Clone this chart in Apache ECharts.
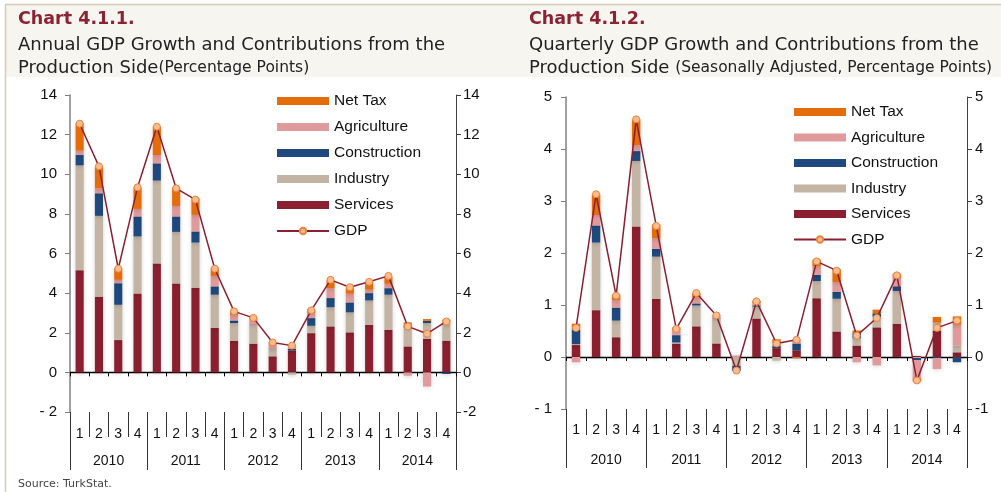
<!DOCTYPE html>
<html>
<head>
<meta charset="utf-8">
<script src="https://cdn.jsdelivr.net/npm/echarts@6/dist/echarts.min.js"></script>
<style>
  html, body { margin: 0; padding: 0; background: #fff; }
  #chart { width: 1001px; height: 492px; }
</style>
</head>
<body>
<div id="chart"></div>
<script>
// categories
const quarters = ['1','2','3','4','1','2','3','4','1','2','3','4','1','2','3','4','1','2','3','4'];
const years = ['2010', '2011', '2012', '2013', '2014'];

// Chart 4.1.1 - annual growth, contributions (percentage points)
const annServices     = [5.15, 3.82, 1.63, 3.98, 5.50, 4.49, 4.27, 2.25, 1.60, 1.45, 0.81, 1.10, 1.98, 2.32, 2.02, 2.40, 2.15, 1.31, 1.70, 1.60];
const annIndustry     = [5.30, 4.08, 1.78, 2.88, 4.18, 2.60, 2.28, 1.67, 0.89, 0.95, 0.37, -0.12, 0.37, 0.97, 1.01, 1.23, 1.77, 0.93, 0.79, 0.80];
const annConstruction = [0.52, 1.14, 1.09, 1.01, 0.87, 0.78, 0.56, 0.42, 0.13, 0.02, 0.02, 0.08, 0.39, 0.46, 0.50, 0.37, 0.33, 0.16, 0.11, -0.08];
const annAgriculture  = [0.22, 0.25, 0.17, 0.38, 0.42, 0.53, 0.84, 0.53, 0.28, 0.25, 0.20, 0.12, 0.25, 0.50, 0.44, 0.17, 0.22, -0.17, -0.71, 0.12];
const annNetTax       = [1.40, 1.10, 0.60, 1.09, 1.43, 0.94, 0.84, 0.42, 0.20, 0.10, 0.12, 0.10, 0.20, 0.40, 0.33, 0.40, 0.37, 0.12, 0.09, 0.14];
const annGDP          = [12.55, 10.4, 5.23, 9.34, 12.4, 9.29, 8.72, 5.23, 3.08, 2.75, 1.51, 1.35, 3.13, 4.67, 4.30, 4.57, 4.87, 2.32, 1.95, 2.57];

// Chart 4.1.2 - quarterly growth, seasonally adjusted
const qServices     = [0.23, 0.90, 0.38, 2.51, 1.12, 0.25, 0.59, 0.26, 0.00, 0.74, 0.17, 0.13, 1.13, 0.49, 0.22, 0.57, 0.64, 0.02, 0.51, 0.09];
const qIndustry     = [0.02, 1.30, 0.32, 1.26, 0.81, 0.03, 0.40, 0.47, -0.17, 0.23, -0.07, 0.00, 0.33, 0.63, 0.14, 0.20, 0.63, -0.02, 0.15, 0.13];
const qConstruction = [0.27, 0.33, 0.25, 0.19, 0.15, 0.14, 0.04, 0.01, -0.10, 0.02, 0.04, 0.13, 0.12, 0.13, 0.10, 0.07, 0.09, -0.04, -0.02, -0.10];
const qAgriculture  = [-0.10, 0.20, 0.14, 0.11, 0.20, 0.10, 0.12, 0.06, 0.03, 0.05, 0.05, 0.08, 0.16, 0.19, -0.10, -0.16, 0.16, -0.35, -0.21, 0.40];
const qNetTax       = [0.12, 0.40, 0.11, 0.50, 0.27, 0.05, 0.08, 0.01, 0.00, 0.04, 0.08, -0.02, 0.13, 0.25, 0.05, 0.07, 0.08, -0.06, 0.11, 0.16];
const qGDP          = [0.56, 3.13, 1.18, 4.57, 2.52, 0.54, 1.23, 0.80, -0.26, 1.07, 0.26, 0.33, 1.84, 1.66, 0.41, 0.75, 1.57, -0.45, 0.56, 0.70];

const legendNames = ['Net Tax', 'Agriculture', 'Construction', 'Industry', 'Services', 'GDP'];

const C = {
  services: '#8a1f2f',
  industry: '#c3b4a4',
  construction: '#1f497d',
  agriculture: '#e09a9b',
  netTax: '#e46c0a',
  gdpLine: '#8a1f2f'
};

const axisFont = 'Liberation Sans';

function bars(stack, xi, yi, s, ind, con, agr, tax) {
  const mk = (name, data, color) => ({
    name: name, type: 'bar', stack: stack, xAxisIndex: xi, yAxisIndex: yi,
    barWidth: '42%', data: data,
    itemStyle: { color: color, shadowBlur: 4, shadowColor: 'rgba(0,0,0,0.18)', shadowOffsetY: 1 }
  });
  return [
    mk('Services', s, C.services),
    mk('Industry', ind, C.industry),
    mk('Construction', con, C.construction),
    mk('Agriculture', agr, C.agriculture),
    mk('Net Tax', tax, C.netTax)
  ];
}

function gdpLine(xi, yi, data) {
  return {
    name: 'GDP', type: 'line', xAxisIndex: xi, yAxisIndex: yi, data: data, z: 5,
    symbol: 'circle', symbolSize: 7,
    lineStyle: { color: C.gdpLine, width: 1.5 },
    itemStyle: { color: '#fbbb8c', borderColor: '#e8843f', borderWidth: 1 }
  };
}

// three x axes per grid: zero line, quarter labels, year labels
function xAxes(gi, qTick, qMargin, yTick, yMargin) {
  return [
    { gridIndex: gi, type: 'category', position: 'bottom', data: quarters,
      axisLine: { onZero: true, lineStyle: { color: '#000', width: 1.3 } },
      axisTick: { show: true, length: 4, lineStyle: { color: '#000' } },
      axisLabel: { show: false } },
    { gridIndex: gi, type: 'category', position: 'bottom', data: quarters,
      axisLine: { show: false, onZero: false },
      axisTick: { show: true, length: qTick, lineStyle: { color: '#333' } },
      axisLabel: { interval: 0, margin: qMargin, fontSize: 14, color: '#111', fontFamily: axisFont } },
    { gridIndex: gi, type: 'category', position: 'bottom', data: years,
      axisLine: { show: false, onZero: false },
      axisTick: { show: true, length: yTick, lineStyle: { color: '#333' } },
      axisLabel: { interval: 0, margin: yMargin, fontSize: 14, color: '#111', fontFamily: axisFont } }
  ];
}

function yAxes(gi, min, max, step, leftMargin, rightMargin) {
  const lbl = { fontSize: 15, color: '#111', fontFamily: axisFont };
  return [
    { gridIndex: gi, type: 'value', position: 'left', min: min, max: max, interval: step,
      splitLine: { show: false },
      axisLine: { show: true, onZero: false, lineStyle: { color: '#808080', width: 1.5 } },
      axisTick: { show: true, length: 5, lineStyle: { color: '#808080' } },
      axisLabel: Object.assign({ margin: leftMargin,
        formatter: v => v < 0 ? '- ' + Math.abs(v) : String(v) }, lbl) },
    { gridIndex: gi, type: 'value', position: 'right', min: min, max: max, interval: step,
      splitLine: { show: false },
      axisLine: { show: true, onZero: false, lineStyle: { color: '#404040', width: 1 } },
      axisTick: { show: true, length: 5, lineStyle: { color: '#404040' } },
      axisLabel: Object.assign({ margin: rightMargin }, lbl) }
  ];
}

function legend(left, top, gap) {
  return {
    orient: 'vertical', left: left, top: top, padding: 0,
    itemWidth: 52, itemHeight: 8, itemGap: gap,
    selectedMode: false,
    textStyle: { fontSize: 15.5, color: '#111', fontFamily: axisFont },
    data: legendNames.map(n => n === 'GDP' ? { name: n } : { name: n, icon: 'rect' })
  };
}

const titleFont = '"DejaVu Sans"';
const beige = '#f6f5f0';
const rule = '#d6cbb4';

function titleBlock(x, head, line1, line2a, line2b) {
  return [
    { type: 'text', x: x, y: 19, style: { text: head, fontFamily: titleFont, fontWeight: 'bold', fontSize: 17.5, fill: '#8b2332', verticalAlign: 'middle' } },
    { type: 'text', x: x, y: 45, style: { text: line1, fontFamily: titleFont, fontSize: 18, fill: '#222', verticalAlign: 'middle' } },
    { type: 'text', x: x, y: 68, style: { text: '{a|' + line2a + '}{b|' + line2b + '}', verticalAlign: 'middle',
        rich: { a: { fontFamily: titleFont, fontSize: 18, fill: '#222' }, b: { fontFamily: titleFont, fontSize: 15.5, fill: '#222' } } } }
  ];
}

const chart = echarts.init(document.getElementById('chart'), null, { renderer: 'canvas' });
chart.setOption({
  animation: false,
  backgroundColor: '#fff',
  grid: [
    { left: 70, right: 545, top: 95, bottom: 80 },
    { left: 566, right: 34, top: 97, bottom: 83 }
  ],
  legend: [legend(276, 93, 10), legend(793, 104, 9.5)],
  xAxis: [].concat(xAxes(0, 25, 15, 58, 42), xAxes(1, 26, 14, 59, 44)),
  yAxis: [].concat(yAxes(0, -2, 14, 2, 13, 7), yAxes(1, -1, 5, 1, 14, 8)),
  series: [].concat(
    bars('annual', 0, 0, annServices, annIndustry, annConstruction, annAgriculture, annNetTax),
    [gdpLine(0, 0, annGDP)],
    bars('quarterly', 3, 2, qServices, qIndustry, qConstruction, qAgriculture, qNetTax),
    [gdpLine(3, 2, qGDP)]
  ),
  graphic: [
    { type: 'rect', z: -10, shape: { x: 5, y: 4, width: 996, height: 73 }, style: { fill: beige } },
    { type: 'line', z: -9, shape: { x1: 5, y1: 4.5, x2: 1001, y2: 4.5 }, style: { stroke: rule, lineWidth: 1.5 } },
    { type: 'line', z: -9, shape: { x1: 5.5, y1: 4, x2: 5.5, y2: 492 }, style: { stroke: rule, lineWidth: 1.5 } }
  ].concat(
    titleBlock(18, 'Chart 4.1.1.', 'Annual GDP Growth and Contributions from the', 'Production Side', '(Percentage Points)'),
    titleBlock(529, 'Chart 4.1.2.', 'Quarterly GDP Growth and Contributions from the', 'Production Side ', '(Seasonally Adjusted, Percentage Points)'),
    [{ type: 'text', x: 18, y: 484, style: { text: 'Source: TurkStat.', fontFamily: titleFont, fontSize: 11, fill: '#444', verticalAlign: 'middle' } }]
  )
});
</script>
</body>
</html>
